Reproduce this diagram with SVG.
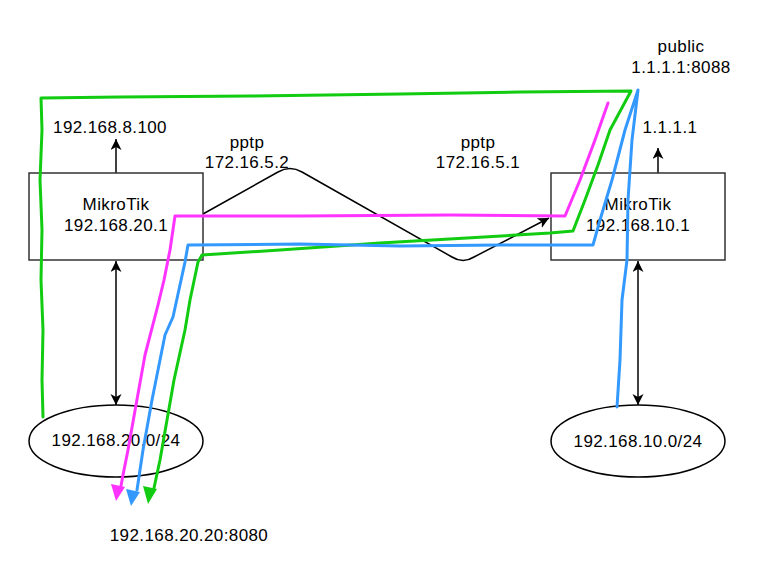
<svg xmlns="http://www.w3.org/2000/svg" width="765" height="586" viewBox="0 0 765 586">
<style>
.box{fill:#fff;stroke:#333;stroke-width:1.5}
.ell{fill:#fff;stroke:#000;stroke-width:1.5}
.t{font-family:"Liberation Sans",Arial,sans-serif;font-size:17px;letter-spacing:0.4px;fill:#000;text-anchor:middle}
.ln{fill:none;stroke:#000;stroke-width:1.5}
.hand{fill:none;stroke-width:3;stroke-linejoin:round;stroke-linecap:round}
</style>
<defs>
<marker id="ab" markerUnits="userSpaceOnUse" markerWidth="12" markerHeight="12" refX="11" refY="5.5" orient="auto-start-reverse"><path d="M0,0 L11,5.5 L0,11 L3,5.5 Z" fill="#000"/></marker>
</defs>
<rect width="765" height="586" fill="#fff"/>
<g id="connectors">
<path class="ln" d="M116,173 V139" marker-end="url(#ab)"/>
<path class="ln" d="M658,173 V148" marker-end="url(#ab)"/>
<path class="ln" d="M116,261 V405" marker-start="url(#ab)" marker-end="url(#ab)"/>
<path class="ln" d="M638,261 V405" marker-start="url(#ab)" marker-end="url(#ab)"/>
<path class="ln" d="M203,214 L278,172 Q290,165 302,172 L452,257 Q463,264 474,257 L549,218" marker-end="url(#ab)"/>
</g>
<g id="n-left-router">
<rect class="box" x="29" y="173" width="174" height="87"/>
<text class="t" x="116" y="210">MikroTik</text>
<text class="t" x="116" y="231">192.168.20.1</text>
</g>
<g id="n-right-router">
<rect class="box" x="551" y="173" width="174" height="87"/>
<text class="t" x="638" y="210">MikroTik</text>
<text class="t" x="638" y="231">192.168.10.1</text>
</g>
<g id="n-left-net">
<ellipse class="ell" cx="116" cy="441" rx="87" ry="36"/>
<text class="t" x="116" y="446">192.168.20.0/24</text>
</g>
<g id="n-right-net">
<ellipse class="ell" cx="638" cy="441" rx="87" ry="36"/>
<text class="t" x="638" y="447">192.168.10.0/24</text>
</g>
<g id="labels">
<text class="t" x="110" y="133">192.168.8.100</text>
<text class="t" x="670" y="133">1.1.1.1</text>
<text class="t" x="247" y="148">pptp</text>
<text class="t" x="247" y="168">172.16.5.2</text>
<text class="t" x="478" y="148">pptp</text>
<text class="t" x="478" y="168">172.16.5.1</text>
<text class="t" x="681" y="52">public</text>
<text class="t" x="681" y="73">1.1.1.1:8088</text>
<text class="t" x="189" y="541">192.168.20.20:8080</text>
</g>
<g id="hand-paths">
<path class="hand" stroke="#11cc11" d="M43,417 L42,380 L43,330 L41,280 L42,230 L40,180 L42,130 L41,98 L120,97 L250,96 L400,94 L520,92 L631,91 L610,130 L598,165 L585,200 L573,231 L550,233 L467,238 L380,243 L280,250 L202,255 L198,262 L190,300 L185,330 L174,380 L167,420 L160,460 L154,488"/>
<polygon fill="#11cc11" points="143,486 157,489 148,504"/>
<path class="hand" stroke="#ff33ff" d="M608,103 L595,140 L580,180 L565,216 L450,215 L300,216 L175,216 L170,250 L164,280 L158,305 L145,355 L136,405 L128,450 L123,475 L121,486"/>
<polygon fill="#ff33ff" points="111,484 125,487 116,501"/>
<path class="hand" stroke="#3399ff" d="M617,407 L620,360 L622,300 L627,260 L628,200 L632,140 L638,90 L625,130 L612,180 L600,220 L593,245 L500,245 L400,246 L300,244 L188,245 L185,262 L173,317 L165,335 L152,400 L143,450 L137,490"/>
<polygon fill="#3399ff" points="126,489 140,492 131,506"/>
</g>
</svg>
